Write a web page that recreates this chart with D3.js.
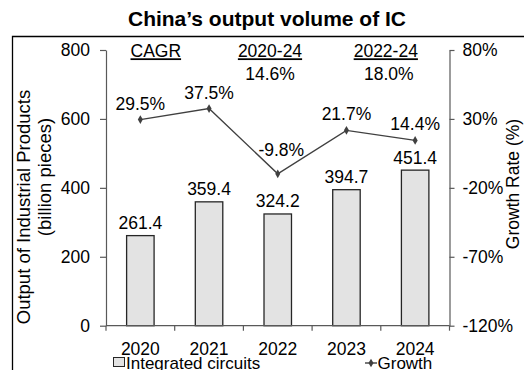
<!DOCTYPE html>
<html>
<head>
<meta charset="utf-8">
<script src="https://cdn.jsdelivr.net/npm/d3@7"></script>
<style>
  html, body { margin: 0; padding: 0; background: #fff; }
  svg { display: block; font-family: "Liberation Sans", Arial, sans-serif; }
  text { fill: #000; }
</style>
</head>
<body>
<svg id="chart" width="524" height="370"></svg>
<script>
// Output volume of integrated circuits in China, with year-on-year growth
const years = ["2020", "2021", "2022", "2023", "2024"];
const output = [261.4, 359.4, 324.2, 394.7, 451.4];      // billion pieces
const growth = [29.5, 37.5, -9.8, 21.7, 14.4];           // %
const leftTicks = [0, 200, 400, 600, 800];
const rightTicks = [-120, -70, -20, 30, 80];
const cagrPeriods = ["2020-24", "2022-24"];
const cagrValues = [14.6, 18.0];

const svg = d3.select("#chart");
const FS = 17.5;
const plotTop = 50, plotBottom = 325.7, plotLeft = 106, plotRight = 449.5;

const x = d3.scaleBand().domain(years).range([plotLeft, plotRight]).padding(0);
const yL = d3.scaleLinear().domain([0, 800]).range([plotBottom, plotTop]);
const yR = d3.scaleLinear().domain([-120, 80]).range([plotBottom, plotTop]);
const barW = x.bandwidth() * 0.4;
const cx = d => x(d) + x.bandwidth() / 2;

// outer frame (continues past the right and bottom edges)
svg.append("path")
  .attr("d", "M12.5,380V36.5H540")
  .attr("fill", "none").attr("stroke", "#000").attr("stroke-width", 1.3);

// title
svg.append("text")
  .attr("x", 267).attr("y", 25.7)
  .attr("text-anchor", "middle")
  .attr("font-weight", "bold")
  .attr("font-size", 21)
  .text("China’s output volume of IC");

// bars
svg.append("g").selectAll("rect")
  .data(years.map((y, i) => ({ y, v: output[i] })))
  .join("rect")
  .attr("x", d => cx(d.y) - barW / 2)
  .attr("y", d => yL(d.v))
  .attr("width", barW)
  .attr("height", d => yL(0) - yL(d.v))
  .attr("fill", "#e3e3e3")
  .attr("stroke", "#262626")
  .attr("stroke-width", 1.3);

// bar value labels
svg.append("g").selectAll("text")
  .data(years.map((y, i) => ({ y, v: output[i] })))
  .join("text")
  .attr("x", d => cx(d.y))
  .attr("y", d => yL(d.v) - 6.5)
  .attr("text-anchor", "middle")
  .attr("font-size", FS)
  .text(d => d.v.toFixed(1));

// left axis
const axL = svg.append("g")
  .attr("transform", `translate(${plotLeft},0)`)
  .call(d3.axisLeft(yL).tickValues(leftTicks).tickSize(6).tickSizeOuter(0).tickPadding(10));
// right axis
const axR = svg.append("g")
  .attr("transform", `translate(${plotRight},0)`)
  .call(d3.axisRight(yR).tickValues(rightTicks).tickFormat(d => d + "%")
    .tickSize(5).tickSizeOuter(0).tickPadding(8));
[axL, axR].forEach(g => {
  g.selectAll("path, line").attr("stroke", "#595959").attr("stroke-width", 1.2);
  g.selectAll("text").attr("font-size", FS).attr("fill", "#000");
  g.attr("font-family", null);
});

// category axis with ticks between categories
const axX = svg.append("g").attr("transform", `translate(0,${plotBottom})`);
axX.append("line")
  .attr("x1", plotLeft).attr("x2", plotRight)
  .attr("stroke", "#595959").attr("stroke-width", 1.2);
axX.selectAll("line.tk")
  .data(years.map(d => x(d)).concat([plotRight]))
  .join("line").attr("class", "tk")
  .attr("x1", d => d).attr("x2", d => d)
  .attr("y1", 0).attr("y2", 5)
  .attr("stroke", "#595959").attr("stroke-width", 1.2);
axX.selectAll("text")
  .data(years)
  .join("text")
  .attr("x", d => cx(d))
  .attr("y", 29.3)
  .attr("text-anchor", "middle")
  .attr("font-size", FS)
  .text(d => d);

// growth line
const pts = years.map((y, i) => ({ y, g: growth[i] }));
svg.append("path")
  .datum(pts)
  .attr("d", d3.line().x(d => cx(d.y)).y(d => yR(d.g)))
  .attr("fill", "none")
  .attr("stroke", "#404040")
  .attr("stroke-width", 1.4);
svg.append("g").selectAll("path")
  .data(pts)
  .join("path")
  .attr("transform", d => `translate(${cx(d.y)},${yR(d.g)})`)
  .attr("d", d3.symbol(d3.symbolDiamond, 22))
  .attr("fill", "#404040");

// growth labels; the dip label sits a little higher and to the right
const labelNudge = { "2022": [3.5, -7.5] };
svg.append("g").selectAll("text")
  .data(pts)
  .join("text")
  .attr("x", d => cx(d.y) + (labelNudge[d.y] ? labelNudge[d.y][0] : 0))
  .attr("y", d => yR(d.g) - 10 + (labelNudge[d.y] ? labelNudge[d.y][1] : 0))
  .attr("text-anchor", "middle")
  .attr("font-size", FS)
  .text(d => d.g.toFixed(1) + "%");

// CAGR annotation
const cagr = svg.append("g").attr("font-size", FS).attr("text-anchor", "middle");
cagr.append("text").attr("x", 155.8).attr("y", 57.3)
  .attr("text-decoration", "underline").text("CAGR");
const cagrX = [270, 385.8];
cagrPeriods.forEach((p, i) => {
  cagr.append("text").attr("x", cagrX[i]).attr("y", 57.3)
    .attr("text-decoration", "underline").text(p);
  cagr.append("text").attr("x", cagrX[i] + (i ? 3 : 0)).attr("y", 80)
    .text(cagrValues[i].toFixed(1) + "%");
});

// axis titles
svg.append("text")
  .attr("transform", "translate(30,207) rotate(-90)")
  .attr("text-anchor", "middle").attr("font-size", 18.5)
  .text("Output of Industrial Products");
svg.append("text")
  .attr("transform", "translate(51,177) rotate(-90)")
  .attr("text-anchor", "middle").attr("font-size", 18.5)
  .text("(billion pieces)");
svg.append("text")
  .attr("transform", "translate(519,184) rotate(-90)")
  .attr("text-anchor", "middle").attr("font-size", FS)
  .text("Growth Rate (%)");

// legend
const lg = svg.append("g").attr("font-size", 17);
lg.append("rect").attr("x", 113.5).attr("y", 357.5).attr("width", 11).attr("height", 9)
  .attr("fill", "#e3e3e3").attr("stroke", "#262626").attr("stroke-width", 1);
lg.append("text").attr("x", 126).attr("y", 369).text("Integrated circuits");
lg.append("line").attr("x1", 365).attr("x2", 377).attr("y1", 363).attr("y2", 363)
  .attr("stroke", "#404040").attr("stroke-width", 1.4);
lg.append("path").attr("transform", "translate(371,363)")
  .attr("d", d3.symbol(d3.symbolDiamond, 22)).attr("fill", "#404040");
lg.append("text").attr("x", 377.5).attr("y", 369).text("Growth");
</script>
</body>
</html>
